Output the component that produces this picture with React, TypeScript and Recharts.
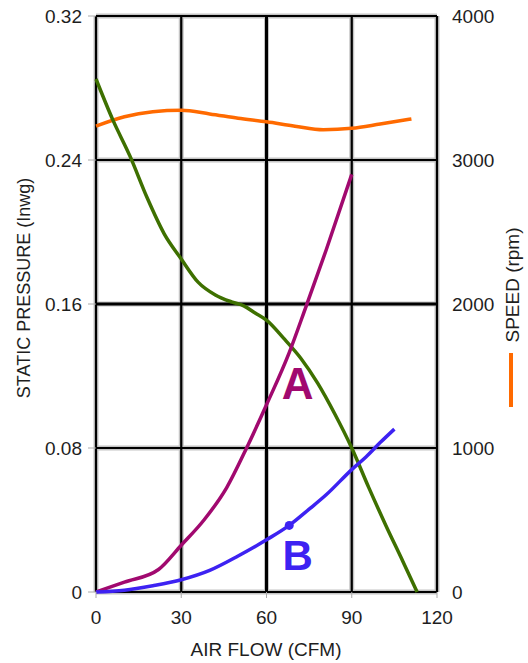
import React from 'react';
import {
  LineChart,
  Line,
  XAxis,
  YAxis,
  CartesianGrid,
  ReferenceLine,
  ReferenceDot,
  Label
} from 'recharts';

// Fan static pressure curve (CFM, inwg)
const fanCurve = [
  { x: 0, y: 0.285 },
  { x: 6, y: 0.262 },
  { x: 12, y: 0.242 },
  { x: 18, y: 0.219 },
  { x: 24, y: 0.199 },
  { x: 30, y: 0.185 },
  { x: 36, y: 0.172 },
  { x: 42, y: 0.165 },
  { x: 48, y: 0.161 },
  { x: 52, y: 0.159 },
  { x: 56, y: 0.155 },
  { x: 60, y: 0.151 },
  { x: 66, y: 0.141 },
  { x: 72, y: 0.13 },
  { x: 78, y: 0.116 },
  { x: 84, y: 0.099 },
  { x: 90, y: 0.08 },
  { x: 96, y: 0.058 },
  { x: 102, y: 0.037 },
  { x: 108, y: 0.017 },
  { x: 113, y: 0 }
];

// System impedance A
const systemA = [
  { x: 0, y: 0 },
  { x: 10, y: 0.0055 },
  { x: 22, y: 0.0125 },
  { x: 30, y: 0.026 },
  { x: 38, y: 0.04 },
  { x: 46, y: 0.058 },
  { x: 53, y: 0.08 },
  { x: 60, y: 0.104 },
  { x: 68, y: 0.133 },
  { x: 74, y: 0.159 },
  { x: 81, y: 0.19 },
  { x: 90, y: 0.232 }
];

// System impedance B
const systemB = [
  { x: 0, y: 0 },
  { x: 10, y: 0.001 },
  { x: 20, y: 0.0035 },
  { x: 30, y: 0.0068 },
  { x: 40, y: 0.012 },
  { x: 50, y: 0.02 },
  { x: 60, y: 0.029 },
  { x: 68, y: 0.037 },
  { x: 75, y: 0.046 },
  { x: 81, y: 0.054 },
  { x: 90, y: 0.068 },
  { x: 95, y: 0.075 },
  { x: 100, y: 0.083 },
  { x: 105, y: 0.0905 }
];

// Fan speed (rpm)
const speed = [
  { x: 0, y: 3235 },
  { x: 10, y: 3300 },
  { x: 20, y: 3335 },
  { x: 30, y: 3345 },
  { x: 40, y: 3320 },
  { x: 50, y: 3290 },
  { x: 60, y: 3265 },
  { x: 70, y: 3235 },
  { x: 80, y: 3210 },
  { x: 90, y: 3220 },
  { x: 100, y: 3250 },
  { x: 111, y: 3285 }
];

const flowTicks = [0, 30, 60, 90, 120];
const pressureTicks = [0, 0.08, 0.16, 0.24, 0.32];
const speedTicks = [0, 1000, 2000, 3000, 4000];

// operating point marked on curve B
const markB = systemB[7];
const labelA = { x: 71, y: 0.116 };
const labelB = { x: 71, y: 0.0205 };

const FONT = '"Liberation Sans", Arial, Helvetica, sans-serif';
const GREEN = '#3e7000';
const PURPLE = '#a1096f';
const BLUE = '#3d22f2';
const ORANGE = '#ff6a00';
const TEXT = '#1e1e1e';

const tickStyle = { fontSize: 19, fill: TEXT, fontFamily: FONT };

export default function App() {
  return (
    <div style={{ width: 528, height: 663 }}>
      <style>{'body{margin:0}'}</style>
      <LineChart
        width={528}
        height={663}
        margin={{ top: 16, right: 0, bottom: 0, left: 0 }}
      >
        <CartesianGrid yAxisId="left" stroke="#c4c4c4" strokeWidth={5} />
        <CartesianGrid yAxisId="left" stroke="#000" strokeWidth={2.2} />
        <ReferenceLine yAxisId="left" x={60} stroke="#000" strokeWidth={3} />
        <ReferenceLine yAxisId="left" y={0.16} stroke="#000" strokeWidth={3} />
        <XAxis
          dataKey="x"
          type="number"
          domain={[0, 120]}
          ticks={flowTicks}
          height={71}
          axisLine={false}
          tickSize={6}
          tickMargin={13}
          tickLine={{ stroke: '#aaa' }}
          tick={tickStyle}
        >
          <Label
            content={() => (
              <text
                x={266}
                y={656}
                textAnchor="middle"
                fontSize={19}
                fontFamily={FONT}
                fill={TEXT}
              >
                AIR FLOW (CFM)
              </text>
            )}
          />
        </XAxis>
        <YAxis
          yAxisId="left"
          type="number"
          domain={[0, 0.32]}
          ticks={pressureTicks}
          width={96}
          axisLine={false}
          tickSize={8}
          tickMargin={6}
          tickLine={{ stroke: '#aaa' }}
          tick={tickStyle}
          tickFormatter={(v: number) => (v === 0 ? '0' : v.toFixed(2))}
        >
          <Label
            content={() => (
              <text
                x={30}
                y={288}
                transform="rotate(-90 30 288)"
                textAnchor="middle"
                fontSize={18}
                fontFamily={FONT}
                fill={TEXT}
              >
                STATIC PRESSURE (Inwg)
              </text>
            )}
          />
        </YAxis>
        <YAxis
          yAxisId="right"
          orientation="right"
          type="number"
          domain={[0, 4000]}
          ticks={speedTicks}
          width={91}
          axisLine={false}
          tickLine={false}
          tickSize={0}
          tickMargin={15}
          tick={tickStyle}
        >
          <Label
            content={() => (
              <g>
                <text
                  x={519}
                  y={285}
                  transform="rotate(-90 519 285)"
                  textAnchor="middle"
                  fontSize={19}
                  fontFamily={FONT}
                  fill={TEXT}
                >
                  SPEED (rpm)
                </text>
                <line x1={511} y1={353} x2={511} y2={407} stroke={ORANGE} strokeWidth={4} />
              </g>
            )}
          />
        </YAxis>
        <Line
          yAxisId="right"
          data={speed}
          dataKey="y"
          type="monotone"
          stroke={ORANGE}
          strokeWidth={3.5}
          dot={false}
          isAnimationActive={false}
        />
        <Line
          yAxisId="left"
          data={fanCurve}
          dataKey="y"
          type="monotone"
          stroke={GREEN}
          strokeWidth={3.5}
          dot={false}
          isAnimationActive={false}
        />
        <Line
          yAxisId="left"
          data={systemA}
          dataKey="y"
          type="monotone"
          stroke={PURPLE}
          strokeWidth={3.5}
          dot={false}
          isAnimationActive={false}
        />
        <Line
          yAxisId="left"
          data={systemB}
          dataKey="y"
          type="monotone"
          stroke={BLUE}
          strokeWidth={3.5}
          dot={false}
          isAnimationActive={false}
        />
        <ReferenceDot yAxisId="left" x={markB.x} y={markB.y} r={4.5} fill={BLUE} stroke="none" />
        <ReferenceDot
          yAxisId="left"
          x={labelA.x}
          y={labelA.y}
          r={0}
          stroke="none"
          label={{ value: 'A', position: 'center', fontSize: 44, fontWeight: 'bold', fill: PURPLE, fontFamily: FONT }}
        />
        <ReferenceDot
          yAxisId="left"
          x={labelB.x}
          y={labelB.y}
          r={0}
          stroke="none"
          label={{ value: 'B', position: 'center', fontSize: 42, fontWeight: 'bold', fill: BLUE, fontFamily: FONT }}
        />
      </LineChart>
    </div>
  );
}
